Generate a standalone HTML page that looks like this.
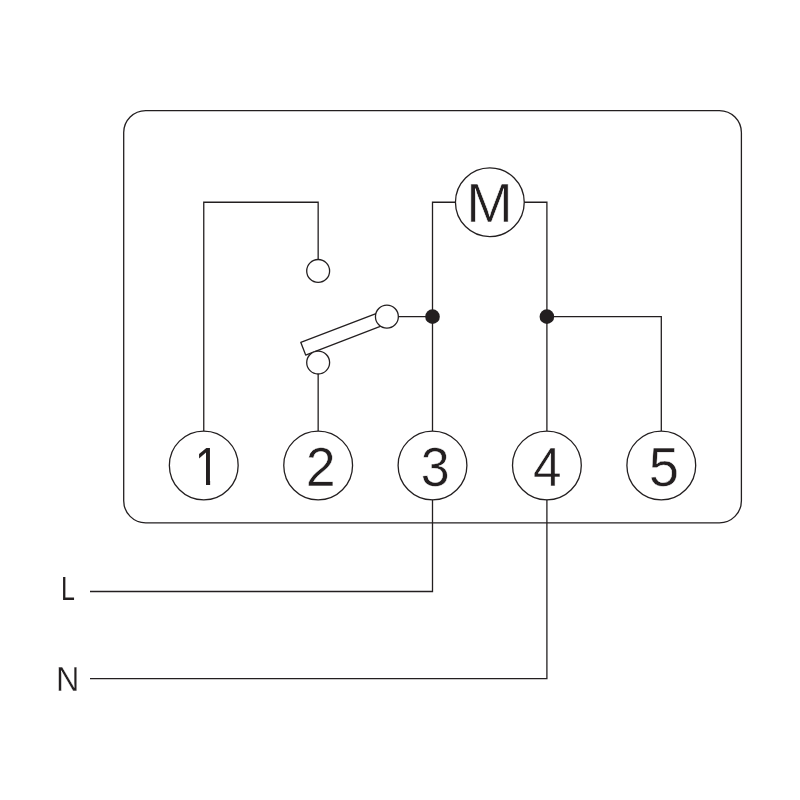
<!DOCTYPE html>
<html>
<head>
<meta charset="utf-8">
<title>Wiring diagram</title>
<style>
html,body{margin:0;padding:0;background:#fff;}
body{width:800px;height:800px;overflow:hidden;}
svg{display:block;}
text{font-family:"Liberation Sans",sans-serif;fill:#231f20;}
.w{fill:none;stroke:#231f20;stroke-width:1.3;}
.c{fill:#fff;stroke:#231f20;stroke-width:1.3;}
.d{fill:#231f20;stroke:none;}
</style>
</head>
<body>
<svg width="800" height="800" viewBox="0 0 800 800">
<rect x="0" y="0" width="800" height="800" fill="#fff"/>
<!-- housing -->
<rect class="w" x="123.7" y="110.6" width="617.7" height="412.2" rx="22" ry="22"/>
<!-- wires -->
<path class="w" d="M203.76 432.05 V202.25 H318.16 V260"/>
<path class="w" d="M318.16 373 V432.05"/>
<path class="w" d="M397 316.65 H432.5"/>
<path class="w" d="M456 202.25 H432.5 V432.05"/>
<path class="w" d="M524 202.25 H546.9 V432.05"/>
<path class="w" d="M546.9 316.65 H661.3 V432.05"/>
<path class="w" d="M432.5 498.85 V591.5 H90"/>
<path class="w" d="M546.9 498.85 V678.55 H90"/>
<!-- switch bar -->
<g transform="translate(386.9 316.65) rotate(-21.0)">
<rect class="c" stroke-linejoin="round" x="-89.6" y="-6.8" width="89.6" height="13.6"/>
</g>
<!-- switch contacts -->
<circle class="c" cx="318.16" cy="270.95" r="11.45"/>
<circle class="c" cx="386.9" cy="316.65" r="11.45"/>
<circle class="c" cx="318.16" cy="362.55" r="11.45"/>
<!-- junction dots -->
<circle class="d" cx="432.5" cy="316.65" r="7.3"/>
<circle class="d" cx="546.9" cy="316.65" r="7.3"/>
<!-- motor -->
<circle class="c" cx="489.85" cy="202.25" r="34.4"/>
<text transform="translate(466.37 222.40) scale(0.5583 0.5465)" font-size="100" stroke="#fff" stroke-width="1.09">M</text>
<!-- terminals -->
<circle class="c" cx="203.76" cy="465.45" r="34.4"/>
<circle class="c" cx="318.16" cy="465.45" r="34.4"/>
<circle class="c" cx="432.5" cy="465.45" r="34.4"/>
<circle class="c" cx="546.9" cy="465.45" r="34.4"/>
<circle class="c" cx="661.3" cy="465.45" r="34.4"/>
<clipPath id="k1" clipPathUnits="userSpaceOnUse"><path d="M4 -75 H34.6 V2 H25 V-8.6 H4 Z"/></clipPath>
<text transform="translate(194.80 485.40) scale(0.4474 0.5422)" font-size="100" clip-path="url(#k1)">1</text>
<text transform="translate(305.80 485.85) scale(0.5378 0.5492)" font-size="100" stroke="#fff" stroke-width="0.92">2</text>
<text transform="translate(420.87 486.46) scale(0.5199 0.5579)" font-size="100" stroke="#fff" stroke-width="0.93">3</text>
<text transform="translate(532.97 485.50) scale(0.5130 0.5472)" font-size="100" stroke="#fff" stroke-width="0.94">4</text>
<text transform="translate(648.67 486.11) scale(0.5442 0.5561)" font-size="100" stroke="#fff" stroke-width="0.91">5</text>
<!-- labels -->
<g style="will-change:transform">
<text transform="translate(61.05 600.00) scale(0.2495 0.3358)" font-size="100">L</text>
<text transform="translate(56.08 691.20) scale(0.3249 0.3416)" font-size="100" stroke="#fff" stroke-width="0.90">N</text>
</g>
</svg>
</body>
</html>
